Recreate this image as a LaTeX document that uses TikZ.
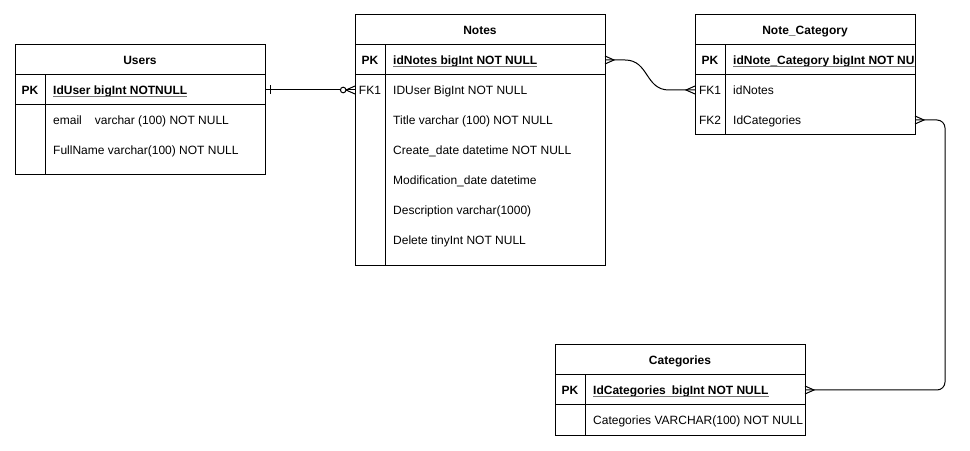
\documentclass[tikz,border=0pt]{standalone}
\usepackage{fontspec}
\setmainfont{Liberation Sans}
\usetikzlibrary{calc}
\tikzset{
  x=1bp, y=-1bp,
  every node/.style={font=\fontsize{12bp}{14bp}\selectfont},
  tbl/.style={draw, line width=1bp, anchor=north west, inner sep=0pt, outer sep=0pt},
  sep/.style={line width=1bp},
  hdr/.style={anchor=base, inner sep=0pt, font=\fontsize{12bp}{14bp}\selectfont\bfseries},
  keylab/.style={anchor=base, inner sep=0pt, font=\fontsize{12bp}{14bp}\selectfont\bfseries},
  fklab/.style={anchor=base, inner sep=0pt},
  fld/.style={anchor=base west, inner sep=0pt},
  pkfld/.style={anchor=base west, inner sep=0pt, font=\fontsize{12bp}{14bp}\selectfont\bfseries},
  ul/.style={line width=1bp, draw=black!55},
  rel/.style={line width=1bp},
}
\newcommand{\ulnode}[1]{\draw[ul] ([yshift=-2.2bp]#1.base west) -- ([yshift=-2.2bp]#1.base east);}
\begin{document}
\begin{tikzpicture}
\useasboundingbox (0,0) rectangle (970,451);
\fill[white] (0,0) rectangle (970,451);

% ---------- Users ----------
\node[tbl, minimum width=250bp, minimum height=130bp] (users) at (15,45) {};
\draw[sep] (15,75) -- (265,75);
\draw[sep] (15,105) -- (265,105);
\draw[sep] (45,75) -- (45,175);
\node[hdr] (users-h) at (140,64.5) {Users};
\node[keylab] (users-pkl) at (30,94.5) {PK};
\node[pkfld] (users-pk) at (53,94.5) {IdUser bigInt NOTNULL};
\ulnode{users-pk}
\node[fld] (users-f1) at (53,124.5) {email\hspace{13bp}varchar (100) NOT NULL};
\node[fld] (users-f2) at (53,154.5) {FullName varchar(100) NOT NULL};

% ---------- Notes ----------
\node[tbl, minimum width=250bp, minimum height=250bp] (notes) at (355,15) {};
\draw[sep] (355,45) -- (605,45);
\draw[sep] (355,75) -- (605,75);
\draw[sep] (385,45) -- (385,265);
\node[hdr] (notes-h) at (480,34.5) {Notes};
\node[keylab] (notes-pkl) at (370,64.5) {PK};
\node[pkfld] (notes-pk) at (393,64.5) {idNotes bigInt NOT NULL\hspace{4bp}};
\ulnode{notes-pk}
\node[fklab] (notes-fkl) at (370,94.5) {FK1};
\node[fld] (notes-f1) at (393,94.5) {IDUser BigInt NOT NULL};
\node[fld] (notes-f2) at (393,124.5) {Title varchar (100) NOT NULL};
\node[fld] (notes-f3) at (393,154.5) {Create\_date datetime NOT NULL};
\node[fld] (notes-f4) at (393,184.5) {Modification\_date datetime};
\node[fld] (notes-f5) at (393,214.5) {Description varchar(1000)};
\node[fld] (notes-f6) at (393,244.5) {Delete tinyInt NOT NULL};

% ---------- Note_Category ----------
\node[tbl, minimum width=220bp, minimum height=120bp] (nc) at (695,15) {};
\draw[sep] (695,45) -- (915,45);
\draw[sep] (695,75) -- (915,75);
\draw[sep] (725,45) -- (725,135);
\node[hdr] (nc-h) at (805,34.5) {Note\_Category};
\node[keylab] (nc-pkl) at (710,64.5) {PK};
\begin{scope}
  \clip (725,46) rectangle (914.5,74);
  \node[pkfld] (nc-pk) at (733,64.5) {idNote\_Category bigInt NOT NU};
  \draw[ul] ([yshift=-2.2bp]nc-pk.base west) -- ++(190,0);
\end{scope}
\node[fklab] (nc-fk1l) at (710,94.5) {FK1};
\node[fld] (nc-f1) at (733,94.5) {idNotes};
\node[fklab] (nc-fk2l) at (710,124.5) {FK2};
\node[fld] (nc-f2) at (733,124.5) {IdCategories};

% ---------- Categories ----------
\node[tbl, minimum width=250bp, minimum height=90bp] (cat) at (555,345) {};
\draw[sep] (555,375) -- (805,375);
\draw[sep] (555,405) -- (805,405);
\draw[sep] (585,375) -- (585,435);
\node[hdr] (cat-h) at (680,364.5) {Categories};
\node[keylab] (cat-pkl) at (570,394.5) {PK};
\node[pkfld] (cat-pk) at (593,394.5) {IdCategories\hspace{6bp}bigInt NOT NULL\hspace{4bp}};
\ulnode{cat-pk}
\node[fld] (cat-f1) at (593,424.5) {Categories VARCHAR(100) NOT NULL};

% ---------- connection points ----------
\coordinate (uA) at (users.east |- 0,90);
\coordinate (nB) at (notes.west |- 0,90);
\coordinate (nA) at (notes.east |- 0,60);
\coordinate (cB) at (nc.west |- 0,90);
\coordinate (cA) at (nc.east |- 0,120);
\coordinate (kB) at (cat.east |- 0,390);

% Users -- Notes (one to zero-or-many)
\draw[rel] (uA) -- (nB);
\draw[rel] ($(uA)+(5,-4.5)$) -- ($(uA)+(5,4.5)$);
\draw[rel, fill=white] ($(nB)+(-11.8,0)$) circle[radius=2.8bp];
\draw[rel] ($(nB)+(0,-4)$) -- ($(nB)+(-9,0)$) -- ($(nB)+(0,4)$);

% Notes -- Note_Category (many to many)
\draw[rel] (nA) -- ($(nA)+(20,0)$) .. controls ($(nA)+(44,0)$) and ($(cB)+(-50,0)$) .. ($(cB)+(-26,0)$) -- (cB);
\draw[rel] ($(nA)+(0,-4)$) -- ($(nA)+(9,0)$) -- ($(nA)+(0,4)$);
\draw[rel] ($(cB)+(0,-4)$) -- ($(cB)+(-9,0)$) -- ($(cB)+(0,4)$);

% Note_Category -- Categories (many to many)
\draw[rel, rounded corners=8bp] (cA) -- ($(cA)+(30,0)$) |- (kB);
\draw[rel] ($(cA)+(0,-4)$) -- ($(cA)+(9,0)$) -- ($(cA)+(0,4)$);
\draw[rel] ($(kB)+(0,-4)$) -- ($(kB)+(9,0)$) -- ($(kB)+(0,4)$);
\end{tikzpicture}
\end{document}
